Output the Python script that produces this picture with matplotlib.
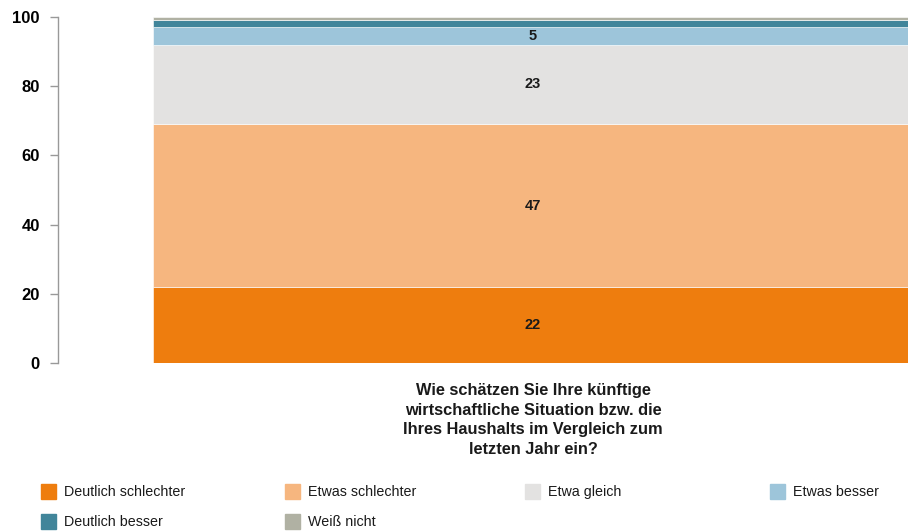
import numpy as np
import matplotlib.pyplot as plt
from matplotlib.patches import Rectangle

plt.rcParams['font.family'] = ['Liberation Sans', 'DejaVu Sans']

question = ("Wie schätzen Sie Ihre künftige\nwirtschaftliche Situation bzw. die\n"
            "Ihres Haushalts im Vergleich zum\nletzten Jahr ein?")
categories = ["Deutlich schlechter", "Etwas schlechter", "Etwa gleich",
              "Etwas besser", "Deutlich besser", "Weiß nicht"]
values = [22, 47, 23, 5, 2, 1]
colors = ["#EE7D0E", "#F6B67F", "#E3E2E1", "#9DC5DA", "#41859A", "#B0B1A3"]
show_label = [True, True, True, True, False, False]

fig = plt.figure(figsize=(9.08, 5.31), dpi=100)
ax = fig.add_axes([58/908, 168/531, 950/908, 346/531])

bottom = 0
for val, col, lab in zip(values, colors, show_label):
    ax.bar(0, val, bottom=bottom, width=0.8, color=col, edgecolor="white",
           linewidth=0.4)
    if lab:
        ax.text(0, bottom + val/2, str(val), ha="center", va="center",
                fontsize=10.5, fontweight="bold", color="#1a1a1a")
    bottom += val

ax.set_xlim(-0.5, 0.5)
ax.set_ylim(0, 100)
ax.set_yticks([0, 20, 40, 60, 80, 100])
ax.tick_params(axis="y", length=6, width=1, color="#999999", pad=7,
               labelsize=12)
for t in ax.get_yticklabels():
    t.set_fontweight("bold")
ax.set_xticks([])
for s in ["top", "right", "bottom"]:
    ax.spines[s].set_visible(False)
ax.spines["left"].set_color("#999999")
ax.spines["left"].set_linewidth(1)

fig.text(533/908, 1 - 383/531, question, ha="center", va="top", fontsize=11.8,
         fontweight="bold", linespacing=1.38, color="#1a1a1a")

# legend, drawn by hand
leg_x = [41, 285, 525, 770]
leg_y = [491, 521]
for i, (cat, col) in enumerate(zip(categories, colors)):
    x = leg_x[i % 4]
    y = leg_y[i // 4]
    fig.patches.append(Rectangle((x/908, 1 - (y + 8)/531), 15/908, 15/531,
                                 color=col, transform=fig.transFigure))
    fig.text((x + 23)/908, 1 - (y + 1)/531, cat, ha="left", va="center",
             fontsize=10.3, color="#1a1a1a")

fig.savefig("out.png", dpi=100)
